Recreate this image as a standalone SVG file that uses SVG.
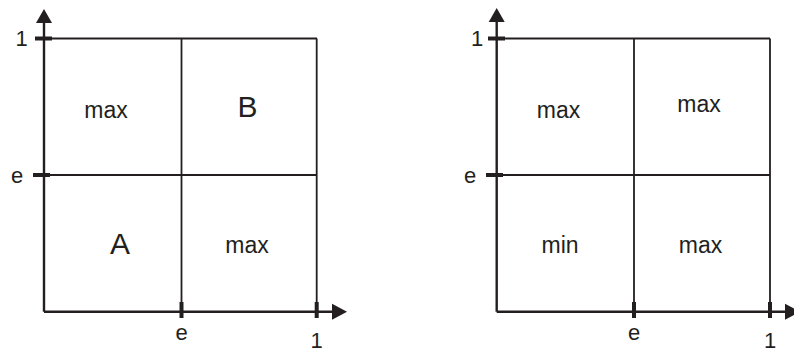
<svg xmlns="http://www.w3.org/2000/svg" width="794" height="353" viewBox="0 0 794 353">
<style>
.grid{stroke:#231f20;stroke-width:1.8;fill:none}
.axis{stroke:#231f20;stroke-width:2.4;fill:none}
.tick{stroke:#231f20;stroke-width:4;fill:none}
.arr{fill:#231f20}
text{font-family:"Liberation Sans",Arial,sans-serif;fill:#231f20;text-anchor:middle}
.lbl{font-size:22px}
.cell{font-size:23px}
.big{font-size:30px}
</style>
<g id="chart-left">
  <g id="left-grid">
    <line class="grid" x1="44" y1="38.5" x2="317" y2="38.5"/>
    <line class="grid" x1="44" y1="175" x2="317" y2="175"/>
    <line class="grid" x1="181.5" y1="38.5" x2="181.5" y2="311.7"/>
    <line class="grid" x1="316.7" y1="38.5" x2="316.7" y2="311.7"/>
  </g>
  <g id="left-axes">
    <line class="axis" x1="44" y1="311.7" x2="44" y2="20"/>
    <polygon class="arr" points="44,9 52,23 36,23"/>
    <line class="axis" x1="44" y1="311.7" x2="334" y2="311.7"/>
    <polygon class="arr" points="347,311.7 332,303.7 332,319.7"/>
    <line class="tick" x1="35" y1="38.5" x2="52" y2="38.5"/>
    <line class="tick" x1="33" y1="175" x2="50" y2="175"/>
    <line class="tick" x1="181.5" y1="302" x2="181.5" y2="318"/>
    <line class="tick" x1="316.7" y1="302" x2="316.7" y2="318"/>
  </g>
  <g id="left-labels">
    <text class="lbl" x="21.5" y="46">1</text>
    <text class="lbl" x="17" y="183">e</text>
    <text class="lbl" x="181.5" y="340">e</text>
    <text class="lbl" x="316.7" y="348">1</text>
  </g>
  <g id="left-cells">
    <text class="cell" x="106" y="118">max</text>
    <text class="big" x="247.5" y="117">B</text>
    <text class="big" x="120" y="254">A</text>
    <text class="cell" x="247" y="253">max</text>
  </g>
</g>
<g id="chart-right">
  <g id="right-grid">
    <line class="grid" x1="496.7" y1="38.5" x2="770" y2="38.5"/>
    <line class="grid" x1="496.7" y1="175" x2="770" y2="175"/>
    <line class="grid" x1="634" y1="38.5" x2="634" y2="311.7"/>
    <line class="grid" x1="770" y1="38.5" x2="770" y2="311.7"/>
  </g>
  <g id="right-axes">
    <line class="axis" x1="496.7" y1="311.7" x2="496.7" y2="20"/>
    <polygon class="arr" points="496.7,8 504.7,22 488.7,22"/>
    <line class="axis" x1="496.7" y1="311.7" x2="787" y2="311.7"/>
    <polygon class="arr" points="800,311.7 785,303.7 785,319.7"/>
    <line class="tick" x1="488" y1="38.5" x2="505" y2="38.5"/>
    <line class="tick" x1="486" y1="175" x2="503" y2="175"/>
    <line class="tick" x1="634" y1="302" x2="634" y2="318"/>
    <line class="tick" x1="770" y1="302" x2="770" y2="318"/>
  </g>
  <g id="right-labels">
    <text class="lbl" x="477" y="46">1</text>
    <text class="lbl" x="470" y="183">e</text>
    <text class="lbl" x="634" y="340">e</text>
    <text class="lbl" x="770" y="348">1</text>
  </g>
  <g id="right-cells">
    <text class="cell" x="558.5" y="118">max</text>
    <text class="cell" x="699" y="112">max</text>
    <text class="cell" x="560" y="253">min</text>
    <text class="cell" x="700.5" y="253">max</text>
  </g>
</g>
</svg>
